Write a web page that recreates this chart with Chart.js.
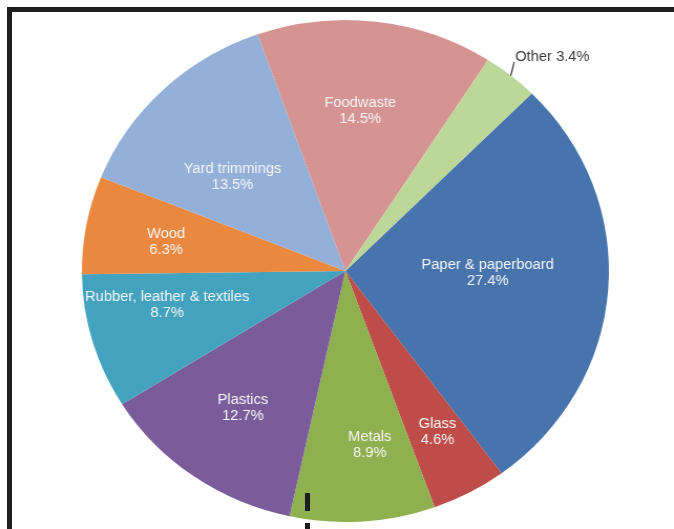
<!DOCTYPE html>
<html>
<head>
<meta charset="utf-8">
<script src="https://cdn.jsdelivr.net/npm/chart.js@4.4.1/dist/chart.umd.min.js"></script>
<style>
html, body { margin: 0; padding: 0; background: #fff; }
body { width: 674px; height: 529px; position: relative; overflow: hidden; }
#frame { position: absolute; left: 7px; top: 7px; right: 0; bottom: 0; border-left: 5px solid #1e1e1e; border-top: 5px solid #1e1e1e; }
#wasteChart { position: absolute; left: 0; top: 0; }
.tick { position: absolute; left: 305px; width: 5px; background: #1e1e1e; }
</style>
</head>
<body>
<div id="frame"></div>
<!-- drawn at 642px wide and stretched to 674px, the original pie is slightly oval -->
<canvas id="wasteChart" width="642" height="529" style="width:674px;height:529px"></canvas>
<div class="tick" style="top:493px;height:18px"></div>
<div class="tick" style="top:523px;height:6px"></div>
<script>
var categories = ['Paper & paperboard', 'Glass', 'Metals', 'Plastics', 'Rubber, leather & textiles', 'Wood', 'Yard trimmings', 'Foodwaste', 'Other'];
var shares = [27.4, 4.6, 8.9, 12.7, 8.7, 6.3, 13.5, 14.5, 3.4];
var sliceColors = ['#4874ae', '#be4c48', '#8fb04f', '#7a5c9b', '#43a3be', '#ea883f', '#95b0d8', '#d59492', '#bdd799'];

/* where each label sits: fraction of radius, small angle nudge in degrees */
var labelPlacement = [
    { r: 0.54, turn: -3.5 },
    { r: 0.73, turn: -0.5 },
    { r: 0.70, turn: -3.8 },
    { r: 0.67, turn: 0.4 },
    { r: 0.69, turn: 5 },
    { r: 0.69, turn: -1 },
    { r: 0.57, turn: -5 },
    { r: 0.64, turn: -1.6 },
    { r: 1.05, turn: -1.3, outside: true }
];

var sliceLabels = {
    id: 'sliceLabels',
    afterDatasetsDraw: function(chart) {
        var ctx = chart.ctx;
        var arcs = chart.getDatasetMeta(0).data;
        ctx.save();
        ctx.font = '14px "Liberation Sans", Arial, sans-serif';
        ctx.textBaseline = 'middle';
        arcs.forEach(function(arc, i) {
            var p = arc.getProps(['x', 'y', 'startAngle', 'endAngle', 'outerRadius'], true);
            var place = labelPlacement[i];
            var mid = (p.startAngle + p.endAngle) / 2;
            var a = mid + place.turn * Math.PI / 180;
            var pct = shares[i].toFixed(1) + '%';
            if (place.outside) {
                var x0 = p.x + Math.cos(mid) * p.outerRadius;
                var y0 = p.y + Math.sin(mid) * p.outerRadius;
                var x1 = p.x + Math.cos(a) * p.outerRadius * place.r;
                var y1 = p.y + Math.sin(a) * p.outerRadius * place.r;
                ctx.strokeStyle = '#333';
                ctx.lineWidth = 1.2;
                ctx.beginPath();
                ctx.moveTo(x0, y0);
                ctx.lineTo(x1, y1);
                ctx.stroke();
                ctx.fillStyle = '#3a3a3a';
                ctx.textAlign = 'left';
                ctx.fillText(categories[i] + ' ' + pct, x1 + 1, y1 - 5);
                return;
            }
            var cx = p.x + Math.cos(a) * p.outerRadius * place.r;
            var cy = p.y + Math.sin(a) * p.outerRadius * place.r;
            ctx.fillStyle = '#f6f6f6';
            ctx.textAlign = 'center';
            ctx.fillText(categories[i], cx, cy - 8);
            ctx.fillText(pct, cx, cy + 8);
        });
        ctx.restore();
    }
};

new Chart(document.getElementById('wasteChart'), {
    type: 'pie',
    data: {
        labels: categories,
        datasets: [{
            data: shares,
            backgroundColor: sliceColors,
            borderWidth: 0
        }]
    },
    options: {
        responsive: false,
        animation: false,
        rotation: 45,
        layout: { padding: { left: 78, right: 62, top: 20, bottom: 7 } },
        plugins: {
            legend: { display: false },
            tooltip: { enabled: false }
        }
    },
    plugins: [sliceLabels]
});
</script>
</body>
</html>
